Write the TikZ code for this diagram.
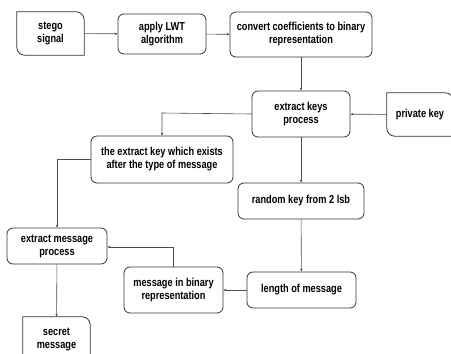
\documentclass[tikz,border=0pt]{standalone}
\usepackage{fontspec}
\setmainfont{Liberation Sans}[FakeStretch=0.8]
\usetikzlibrary{arrows.meta}
\newcommand\rdiag[1]{%
  \draw[boxline] (#1.north west) -- ([xshift=-8pt]#1.north east)
    arc[start angle=90,end angle=0,radius=8pt] -- (#1.south east)
    -- ([xshift=8pt]#1.south west)
    arc[start angle=270,end angle=180,radius=8pt] -- cycle;}
\begin{document}
\begin{tikzpicture}[x=1pt,y=1pt,
  boxline/.style={draw=black!80,line width=0.8pt},
  rbox/.style={boxline,rounded corners=6pt,align=center,inner sep=1pt,
    font=\bfseries\fontsize{11.5}{13}\selectfont},
  dbox/.style={align=center,inner sep=1pt,
    font=\bfseries\fontsize{11.5}{13}\selectfont},
  conn/.style={draw=black!70,line width=0.6pt,-{Stealth[length=3pt,width=2.5pt]}}]
\useasboundingbox (0,0) rectangle (451,-354);
\node[dbox,minimum width=67pt,minimum height=43pt] (stego) at (50.5,-33.5) {stego\\signal};
\rdiag{stego}
\node[rbox,minimum width=88pt,minimum height=40pt] (apply) at (162,-34) {apply LWT\\algorithm};
\node[rbox,minimum width=142pt,minimum height=45pt] (conv) at (301,-34.5) {convert coefficients to binary\\representation};
\node[rbox,minimum width=98pt,minimum height=46pt] (ekeys) at (301,-114) {extract keys\\process};
\node[dbox,minimum width=66pt,minimum height=43pt] (priv) at (420,-114.5) {private key};
\rdiag{priv}
\node[rbox,minimum width=142pt,minimum height=47pt] (tek) at (162,-159.5) {the extract key which exists\\after the type of message};
\node[rbox,minimum width=126pt,minimum height=36pt] (rand) at (301,-201) {random key from 2 lsb};
\node[rbox,minimum width=109pt,minimum height=36pt] (len) at (301.5,-290) {length of message};
\node[rbox,minimum width=99pt,minimum height=46pt] (mbin) at (173.5,-290) {message in binary\\representation};
\node[rbox,minimum width=100pt,minimum height=36pt] (emsg) at (57,-246) {extract message\\process};
\node[dbox,minimum width=67pt,minimum height=45pt] (sec) at (56.5,-339.5) {secret\\message};
\rdiag{sec}
\coordinate (c1) at (162,-113);
\coordinate (c2) at (57,-159);
\coordinate (c3) at (173.5,-247);
\draw[conn] (stego) -- (apply);
\draw[conn] (apply) -- (conv);
\draw[conn] (conv) -- (ekeys);
\draw[conn] (priv) -- (ekeys);
\draw[conn] (ekeys.west) -- (c1) -- (tek.north);
\draw[conn] (ekeys) -- (rand);
\draw[conn] (rand) -- (len);
\draw[conn] (len) -- (mbin);
\draw[conn] (mbin.north) -- (c3) -- (emsg.east |- c3);
\draw[conn] (tek.west |- c2) -- (c2) -- (emsg.north);
\draw[conn] (emsg) -- (sec);
\end{tikzpicture}
\end{document}
